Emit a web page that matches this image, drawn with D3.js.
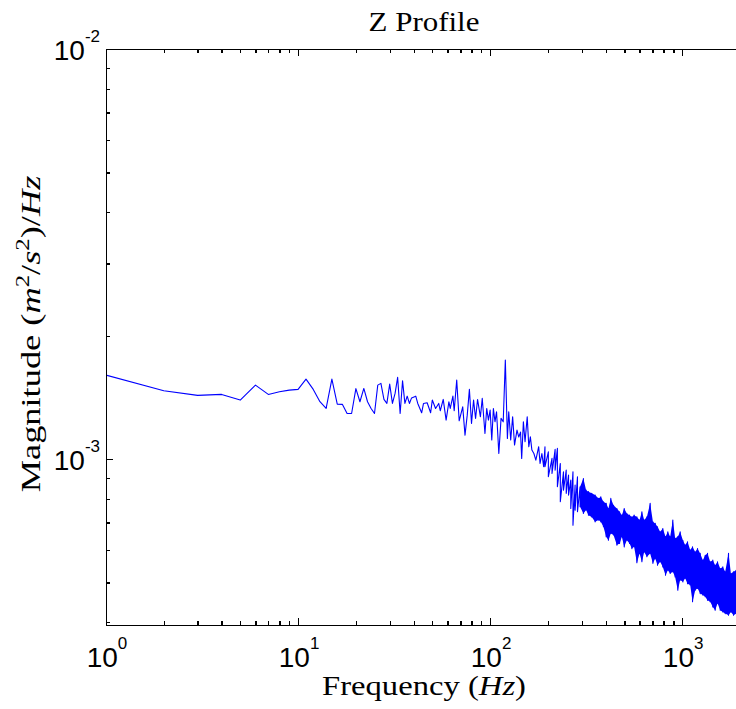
<!DOCTYPE html>
<meta charset="utf-8">
<head>
    <title>Z Profile</title>
    <script src="https://cdn.jsdelivr.net/npm/d3@7"></script>
    <style>
        body { margin: 0; background: #fff; }
        .tick-label { font-family: "Liberation Sans", Arial, sans-serif; font-size: 28px; fill: #000; }
        .tex { font-family: "Liberation Serif", "Times New Roman", Times, serif; fill: #000; }
        .axis path, .axis line { stroke: #000; stroke-width: 1.3; shape-rendering: crispEdges; }
    </style>
</head>
<body>
<div id="chart"></div>
<script>
    // spectrum values, magnitudes in units of 1e-3 (m^2/s^2)/Hz
    // 1 Hz bins at the low end
    const lowHz = [1,2,3,4,5,6,7,8,9,10,11,12,13,14,15,16,17,18,19,20,21,22,23,24,25,26,27,28,29,30,31,32,33,34,35,36,37,38,39];
    const lowMag = [1.603,1.468,1.430,1.438,1.393,1.515,1.438,1.459,1.473,1.479,1.567,1.479,1.380,1.329,1.567,1.362,1.360,1.292,1.292,1.486,
        1.380,1.487,1.380,1.329,1.292,1.515,1.530,1.398,1.367,1.524,1.367,1.446,1.582,1.292,1.552,1.367,1.424,1.367,1.410];

    // peaks and dips from 40 Hz to 190 Hz
    const midHz = [41,42,44,45,47,49,50,52,54,55,57,59,61,62,64,65,67,69,72,74,76,78,80,82,84,86,89,91,94,96,
        98,100,102,104,106,108,111,114,117,120,123,125,128,131,134,138,141,144,146,149,152,156,159,162,165,169,173,179,182,186,190];
    const midMag = [1.424,1.367,1.297,1.367,1.372,1.297,1.393,1.329,1.367,1.312,1.398,1.245,1.380,1.329,1.424,1.312,1.558,1.240,1.341,1.144,
        1.280,1.479,1.222,1.393,1.256,1.398,1.268,1.406,1.155,1.329,1.245,1.317,1.113,1.329,1.233,1.304,1.032,1.257,1.233,1.744,
        1.123,1.304,1.113,1.268,1.082,1.177,1.132,1.164,1.004,1.233,1.102,1.268,1.072,1.133,1.052,1.032,0.994,1.072,0.976,1.032,0.958];

    // dense part: upper and lower edge of the noise band
    const bandHz = [193,201,210,218,224,232,241,249,256,263,270,277,285,294,306,316,325,338,352,367,
        377,389,402,413,425,439,457,472,485,499,515,532,547,562,581,600,617,634,655,681,
        704,724,744,768,793,819,842,866,894,919,949,976,1008,1037,1066,1101,1132,1169,1202,1241,
        1281,1318,1355,1399,1444,1485,1528,1578,1628,1675,1743,1793,1851,1911,2000];
    const bandHi = [1.072,1.042,1.004,1.056,1.062,0.976,0.931,0.940,0.914,0.889,0.931,0.864,0.906,0.856,0.897,0.840,0.833,0.825,0.817,0.802,
        0.809,0.787,0.780,0.758,0.802,0.772,0.758,0.744,0.730,0.758,0.737,0.730,0.723,0.730,0.723,0.710,0.744,0.710,0.723,0.780,
        0.703,0.697,0.684,0.665,0.677,0.647,0.665,0.647,0.710,0.641,0.647,0.665,0.634,0.617,0.629,0.600,0.611,0.594,0.605,0.589,
        0.567,0.583,0.589,0.562,0.567,0.551,0.562,0.541,0.546,0.531,0.589,0.526,0.531,0.536,0.530];
    const bandLo = [0.958,0.906,0.923,0.940,0.856,0.787,0.840,0.825,0.817,0.758,0.690,0.751,0.744,0.765,0.737,0.751,0.730,0.723,0.703,0.710,
        0.703,0.684,0.647,0.634,0.659,0.653,0.617,0.623,0.647,0.611,0.634,0.623,0.605,0.611,0.559,0.589,0.562,0.594,0.578,0.589,
        0.557,0.572,0.551,0.562,0.546,0.521,0.536,0.526,0.531,0.516,0.479,0.507,0.502,0.512,0.497,0.493,0.449,0.479,0.484,0.470,
        0.466,0.462,0.453,0.449,0.436,0.428,0.445,0.428,0.424,0.420,0.416,0.424,0.416,0.420,0.418];

    const xMajor = [1, 10, 100, 1000];
    const xExp = ["0", "1", "2", "3"];
    const yMajor = [1e-2, 1e-3];
    const yExp = ["-2", "-3"];
    const xDomain = [1, 2000];
    const yDomain = [3.94e-4, 1e-2];

    const width = 736, height = 709;
    const margin = {top: 49, left: 106, bottom: 84};

    const svg = d3.select("#chart").append("svg")
        .attr("width", width)
        .attr("height", height);

    const x = d3.scaleLog().domain(xDomain).range([margin.left, 740]);
    const y = d3.scaleLog().domain(yDomain).range([height - margin.bottom, margin.top]);

    // minor ticks 2..9 in every decade
    const xMinor = [];
    [1, 10, 100, 1000].forEach(d => { for (let k = 2; k <= 9; k++) if (d * k <= 2000) xMinor.push(d * k); });
    const yMinor = [];
    [1e-4, 1e-3].forEach(d => { for (let k = 2; k <= 9; k++) if (d * k >= yDomain[0]) yMinor.push(d * k); });

    // spectrum as one line; the noise band alternates between its upper and lower edge
    const pts = [];
    lowHz.forEach((f, i) => pts.push([f, lowMag[i] * 1e-3]));
    midHz.forEach((f, i) => pts.push([f, midMag[i] * 1e-3]));
    bandHz.forEach((f, i) => { pts.push([f, bandHi[i] * 1e-3]); pts.push([f, bandLo[i] * 1e-3]); });

    svg.append("clipPath").attr("id", "plotclip")
        .append("rect")
        .attr("x", margin.left).attr("y", margin.top)
        .attr("width", 740 - margin.left).attr("height", height - margin.bottom - margin.top);

    const plot = svg.append("g").attr("clip-path", "url(#plotclip)");

    // solid fill where the bins are packed tighter than a pixel
    const bandRows = bandHz.map((f, i) => ({f: f, hi: bandHi[i] * 1e-3, lo: bandLo[i] * 1e-3}))
        .filter(d => d.f >= 294);
    plot.append("path")
        .datum(bandRows)
        .attr("fill", "#0000ff")
        .attr("d", d3.area().x(d => x(d.f)).y0(d => y(d.lo)).y1(d => y(d.hi)));

    plot.append("path")
        .datum(pts)
        .attr("fill", "none")
        .attr("stroke", "#0000ff")
        .attr("stroke-width", 1.1)
        .attr("stroke-linejoin", "round")
        .attr("d", d3.line().x(d => x(d[0])).y(d => y(d[1])));

    // axes, ticks pointing inwards
    function addAxis(axis, tx, ty) {
        svg.append("g").attr("class", "axis")
            .attr("transform", "translate(" + tx + "," + ty + ")")
            .call(axis)
            .call(g => g.selectAll("text").remove());
    }
    const yb = height - margin.bottom;
    addAxis(d3.axisBottom(x).tickValues(xMajor).tickSize(-7).tickSizeOuter(0), 0, yb);
    addAxis(d3.axisBottom(x).tickValues(xMinor).tickSize(-4).tickSizeOuter(0), 0, yb);
    addAxis(d3.axisTop(x).tickValues(xMajor).tickSize(-7).tickSizeOuter(0), 0, margin.top);
    addAxis(d3.axisTop(x).tickValues(xMinor).tickSize(-4).tickSizeOuter(0), 0, margin.top);
    addAxis(d3.axisLeft(y).tickValues(yMajor).tickSize(-7).tickSizeOuter(0), margin.left, 0);
    addAxis(d3.axisLeft(y).tickValues(yMinor).tickSize(-4).tickSizeOuter(0), margin.left, 0);

    // 10^n tick labels
    function powLabel(px, py, exp, anchor) {
        const t = svg.append("text").attr("class", "tick-label")
            .attr("x", px).attr("y", py).attr("text-anchor", anchor);
        t.append("tspan").text("10");
        t.append("tspan").attr("dy", -18).attr("font-size", 17).text(exp);
    }
    xMajor.forEach((v, i) => powLabel(x(v) + 1, yb + 42, xExp[i], "middle"));
    yMajor.forEach((v, i) => powLabel(margin.left - 6, y(v) + 11, yExp[i], "end"));

    // serif labels stretched to the width of the original
    function fitted(tx, ty, rot, target, build) {
        const t = svg.append("text").attr("class", "tex")
            .attr("x", 0).attr("y", 0).attr("text-anchor", "middle");
        build(t);
        const k = target / t.node().getBBox().width;
        t.attr("transform", "translate(" + tx + "," + ty + ") rotate(" + rot + ") scale(" + k + ",1)");
    }

    fitted(424, 31, 0, 111, t => t.attr("font-size", 28).text("Z Profile"));

    fitted(424, 695, 0, 204, t => {
        t.attr("font-size", 28);
        t.append("tspan").text("Frequency (");
        t.append("tspan").attr("font-style", "italic").text("Hz");
        t.append("tspan").text(")");
    });

    fitted(40, 334, -90, 317, t => {
        t.attr("font-size", 28);
        t.append("tspan").text("Magnitude (");
        t.append("tspan").attr("font-style", "italic").text("m");
        t.append("tspan").attr("dy", -11).attr("font-size", 19).text("2");
        t.append("tspan").attr("dy", 11).text("/");
        t.append("tspan").attr("font-style", "italic").text("s");
        t.append("tspan").attr("dy", -11).attr("font-size", 19).text("2");
        t.append("tspan").attr("dy", 11).text(")/");
        t.append("tspan").attr("font-style", "italic").text("Hz");
    });
</script>
</body>
